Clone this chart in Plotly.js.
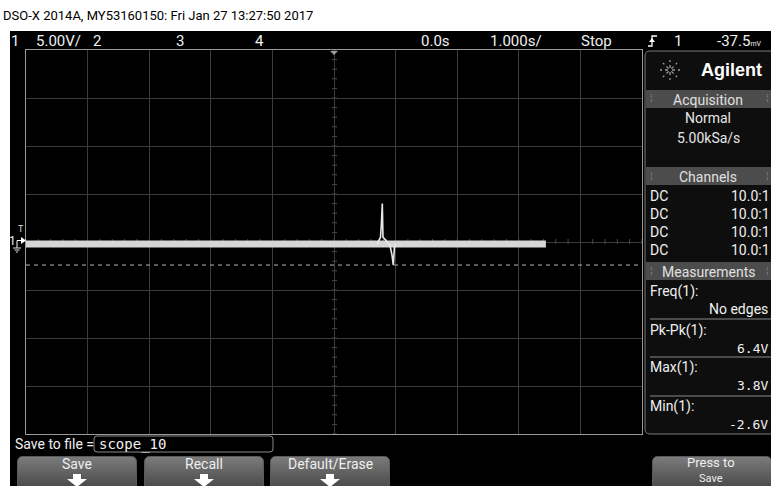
<!DOCTYPE html>
<html><head><meta charset="utf-8">
<script src="https://cdn.plot.ly/plotly-3.0.1.min.js"></script>
<style>html,body{margin:0;padding:0;background:#fff;}#chart{width:771px;height:486px;}</style>
</head><body><div id="chart"></div>
<script>
// ---- data ----
const titleText = 'DSO-X 2014A, MY53160150: Fri Jan 27 13:27:50 2017';
// baseline (noisy band) of channel 1, time in s, volts
const bandT = [-5.0, 0.70, 1.0, 3.44];
const bandV = [-0.4, -0.4, -0.4, -0.4];
// transient around t = 0.8 s
const spikeT = [0.70, 0.755, 0.77, 0.784, 0.795, 0.84, 0.91, 0.94, 0.963, 0.98, 1.0];
const spikeV = [-0.4, 0.3, 1.8, 3.8, 0.3, 0.0, -0.6, -1.5, -2.6, -0.8, -0.4];
const minMarkerV = -2.6;
const measNames = ['Freq(1):', 'Pk-Pk(1):', 'Max(1):', 'Min(1):'];
const measValues = ['No edges', '6.4V', '3.8V', '-2.6V'];
const channelCoupling = ['DC', 'DC', 'DC', 'DC'];
const channelProbe = ['10.0:1', '10.0:1', '10.0:1', '10.0:1'];
const buttonLabels = ['Save', 'Recall', 'Default/Erase'];

// ---- geometry helpers (pixel -> paper) ----
const L = 26, R = 642, T = 50, B = 434;
const X = px => (px - L) / (R - L);
const Y = py => (B - py) / (B - T);
const NAR = "Roboto,'Liberation Sans',sans-serif";
const MONO = "'DejaVu Sans Mono','Liberation Mono',monospace";

function rr(x0, y0, x1, y1, r) {
  const p = (x, y) => X(x) + ',' + Y(y);
  return `M${p(x0 + r, y0)} L${p(x1 - r, y0)} Q${p(x1, y0)} ${p(x1, y0 + r)} L${p(x1, y1 - r)} Q${p(x1, y1)} ${p(x1 - r, y1)} L${p(x0 + r, y1)} Q${p(x0, y1)} ${p(x0, y1 - r)} L${p(x0, y0 + r)} Q${p(x0, y0)} ${p(x0 + r, y0)} Z`;
}
function poly(pts) {
  return 'M' + pts.map(q => X(q[0]) + ',' + Y(q[1])).join(' L') + ' Z';
}
function rect(x0, y0, x1, y1, fill, layer, line) {
  return {type: 'rect', xref: 'paper', yref: 'paper', x0: X(x0), x1: X(x1), y0: Y(y1), y1: Y(y0),
    fillcolor: fill, line: line || {width: 0}, layer: layer || 'above'};
}
function hline(x0, x1, y, color, w) {
  return {type: 'line', xref: 'paper', yref: 'paper', x0: X(x0), x1: X(x1), y0: Y(y), y1: Y(y),
    line: {color: color, width: w || 1}, layer: 'above'};
}
function ann(text, px, py, o) {
  o = o || {};
  return {text: text, xref: 'paper', yref: 'paper', x: X(px), y: Y(py), showarrow: false,
    xanchor: o.xa || 'center', yanchor: 'middle',
    font: {family: o.family || NAR, size: o.size || 13, color: o.color || '#f0f0f0', weight: o.weight || 'normal'}};
}

const shapes = [];
const annotations = [];
const images = [];

// screen background
shapes.push(rect(10, 31, 771, 486, '#000000', 'below'));

// centre-line minor ticks (graticule decoration)
for (let k = -25; k <= 25; k++) {
  const t = k * 0.2;
  shapes.push({type: 'line', xref: 'x', yref: 'paper', x0: t, x1: t, y0: 0.5 - 2 / 384, y1: 0.5 + 3 / 384,
    line: {color: '#4a4a4a', width: 1}, layer: 'below'});
}
for (let k = -20; k <= 20; k++) {
  const v = -0.2 + k;
  shapes.push({type: 'line', xref: 'paper', yref: 'y', x0: 0.5 - 2 / 616, x1: 0.5 + 3 / 616, y0: v, y1: v,
    line: {color: '#4a4a4a', width: 1}, layer: 'below'});
}

// min measurement marker
shapes.push({type: 'line', xref: 'paper', yref: 'y', x0: 0, x1: 1, y0: minMarkerV, y1: minMarkerV,
  line: {color: '#b4b4b4', width: 1, dash: '4px,4px'}, layer: 'above'});

// trigger position marker at top
shapes.push({type: 'path', xref: 'paper', yref: 'paper', path: poly([[330, 51], [338, 51], [334, 55]]),
  fillcolor: '#9a9a9a', line: {width: 0}, layer: 'above'});

// channel 1 ground marker
shapes.push({type: 'path', xref: 'paper', yref: 'paper', path: poly([[21, 237], [26, 240.5], [21, 244]]),
  fillcolor: '#ffffff', line: {width: 0}, layer: 'above'});
shapes.push({type: 'path', xref: 'paper', yref: 'paper', path: `M${X(17)},${Y(248)} L${X(17)},${Y(240.5)} L${X(22)},${Y(240.5)}`,
  line: {color: '#ffffff', width: 1}, layer: 'above'});
shapes.push(hline(13, 21, 248, '#dddddd', 1));
shapes.push(hline(14.5, 19.5, 250, '#dddddd', 1));
shapes.push(hline(16, 18, 252, '#dddddd', 1));
annotations.push(ann('1', 12.5, 240.5, {size: 12}));
annotations.push(ann('T', 20.5, 229, {size: 9, color: '#dddddd'}));

// top status bar text
annotations.push(ann(titleText, 1, 15, {xa: 'left', color: '#000000', size: 13}));
annotations.push(ann('1', 15, 41, {size: 15}));
annotations.push(ann('5.00V/', 34, 41, {xa: 'left', size: 15}));
annotations.push(ann('2', 97, 41, {size: 15}));
annotations.push(ann('3', 180, 41, {size: 15}));
annotations.push(ann('4', 259, 41, {size: 15}));
annotations.push(ann('0.0s', 435, 41, {size: 15}));
annotations.push(ann('1.000s/', 516, 41, {size: 15}));
annotations.push(ann('Stop', 596, 41, {size: 15}));
annotations.push(ann('1', 678, 41, {size: 15}));
annotations.push(ann("-37.5<span style='font-size:7px'>mV</span>", 764, 41, {xa: 'right', size: 15}));
// trigger edge symbol
shapes.push({type: 'path', xref: 'paper', yref: 'paper',
  path: `M${X(648)},${Y(46)} L${X(652)},${Y(46)} L${X(652)},${Y(36)} L${X(657)},${Y(36)}`,
  line: {color: '#ffffff', width: 1.3}, layer: 'above'});
shapes.push({type: 'path', xref: 'paper', yref: 'paper', path: poly([[649, 42], [655, 42], [652, 38]]),
  fillcolor: '#ffffff', line: {width: 0}, layer: 'above'});

// right side panel
shapes.push({type: 'path', xref: 'paper', yref: 'paper', path: rr(645, 51, 776, 434, 5),
  fillcolor: '#0e0e0e', line: {color: '#7a7a7a', width: 1}, layer: 'above'});
// Agilent spark logo
for (let k = 0; k < 8; k++) {
  const a = k * Math.PI / 4;
  shapes.push({type: 'line', xref: 'paper', yref: 'paper',
    x0: X(670 + 2 * Math.cos(a)), y0: Y(70 + 2 * Math.sin(a)),
    x1: X(670 + 10 * Math.cos(a)), y1: Y(70 + 10 * Math.sin(a)),
    line: {color: '#9a9a9a', width: 1.3, dash: 'dot'}, layer: 'above'});
}
annotations.push(ann('Agilent', 731, 70, {family: "'Liberation Sans',Arial,sans-serif", size: 18, weight: 'bold', color: '#ffffff'}));

const headers = [['Acquisition', 90, 108], ['Channels', 167, 185], ['Measurements', 262, 280]];
headers.forEach(h => {
  shapes.push(rect(646, h[1], 771, h[2], '#4c4c4c'));
  annotations.push(ann(h[0], 708, (h[1] + h[2]) / 2 + 0.5, {size: 14, color: '#e0e0e0'}));
  annotations.push(ann('⁞', 651, (h[1] + h[2]) / 2, {size: 10, color: '#8a8a8a'}));
  annotations.push(ann('⁞', 767, (h[1] + h[2]) / 2, {size: 10, color: '#8a8a8a'}));
});
annotations.push(ann('Normal', 708, 118, {size: 14, color: '#e6e6e6'}));
annotations.push(ann('5.00kSa/s', 708, 138, {size: 14, color: '#e6e6e6'}));
channelCoupling.forEach((c, i) => {
  const y = 196 + i * 18;
  annotations.push(ann(c, 648, y, {xa: 'left', size: 14}));
  annotations.push(ann(channelProbe[i], 772, y, {xa: 'right', size: 14}));
});
measNames.forEach((n, i) => {
  const y0 = [291, 330, 367, 406][i];
  annotations.push(ann(n, 648, y0, {xa: 'left', size: 14}));
  annotations.push(ann(measValues[i], 770, y0 + 18, {xa: 'right', size: i === 0 ? 14 : 13, family: i === 0 ? NAR : MONO}));
  if (i > 0) shapes.push(hline(650, 771, [0, 319, 357, 396][i], '#8a8a8a', 1));
});

// bottom soft-key area
annotations.push(ann('Save to file =', 13, 443.5, {xa: 'left', size: 14}));
shapes.push({type: 'path', xref: 'paper', yref: 'paper', path: rr(94, 436, 273, 452, 3),
  fillcolor: '#000000', line: {color: '#8a8a8a', width: 1}, layer: 'above'});
annotations.push(ann('scope_10', 97, 444.5, {xa: 'left', size: 14, family: MONO}));

const btnSvg = "<svg xmlns='http://www.w3.org/2000/svg' width='120' height='40'><defs><linearGradient id='g' x1='0' y1='0' x2='0' y2='1'>" +
  "<stop offset='0' stop-color='#7c7c7c'/><stop offset='0.45' stop-color='#575757'/><stop offset='1' stop-color='#2c2c2c'/></linearGradient></defs>" +
  "<rect x='0.5' y='0.5' width='119' height='50' rx='5' ry='5' fill='url(#g)' stroke='#5a5a5a'/></svg>";
const btnSrc = 'data:image/svg+xml;charset=utf-8,' + encodeURIComponent(btnSvg);
const btnX = [[17, 137], [144, 264], [270, 390], [652, 772]];
btnX.forEach(b => {
  images.push({source: btnSrc, xref: 'paper', yref: 'paper', x: X(b[0]), y: Y(456),
    sizex: (b[1] - b[0]) / (R - L), sizey: 40 / (B - T), sizing: 'stretch', xanchor: 'left', yanchor: 'top', layer: 'above'});
});
buttonLabels.forEach((t, i) => {
  const cx = (btnX[i][0] + btnX[i][1]) / 2;
  annotations.push(ann(t, cx, 464, {size: 14, color: '#eeeeee'}));
  shapes.push({type: 'path', xref: 'paper', yref: 'paper',
    path: poly([[cx - 4, 474], [cx + 4, 474], [cx + 4, 479], [cx + 10, 479], [cx, 487], [cx - 10, 479], [cx - 4, 479]]),
    fillcolor: '#ffffff', line: {width: 0}, layer: 'above'});
});
annotations.push(ann('Press to', 711, 462.5, {size: 13, color: '#eeeeee'}));
annotations.push(ann('Save', 711, 478.5, {size: 11, color: '#eeeeee'}));

const traces = [
  {x: bandT, y: bandV, type: 'scatter', mode: 'lines', line: {color: '#d6d6d6', width: 7}, hoverinfo: 'skip'},
  {x: spikeT, y: spikeV, type: 'scatter', mode: 'lines', line: {color: '#e8e8e8', width: 1.6}, hoverinfo: 'skip'}
];

const layout = {
  width: 771, height: 486, autosize: false,
  margin: {l: L, r: 771 - R, t: T, b: 486 - B, pad: 0},
  paper_bgcolor: '#ffffff', plot_bgcolor: '#000000',
  showlegend: false,
  xaxis: {range: [-5, 5], tick0: 0, dtick: 1, showgrid: true, gridcolor: '#3c3c3c', gridwidth: 1,
    zeroline: false, showline: true, mirror: true, linecolor: '#9a9a9a', linewidth: 1,
    showticklabels: false, ticks: '', fixedrange: true},
  yaxis: {range: [-20.2, 19.8], tick0: -0.2, dtick: 5, showgrid: true, gridcolor: '#3c3c3c', gridwidth: 1,
    zeroline: false, showline: true, mirror: true, linecolor: '#9a9a9a', linewidth: 1,
    showticklabels: false, ticks: '', fixedrange: true},
  shapes: shapes, annotations: annotations, images: images
};
Plotly.newPlot('chart', traces, layout, {staticPlot: true, displayModeBar: false});
</script></body></html>
